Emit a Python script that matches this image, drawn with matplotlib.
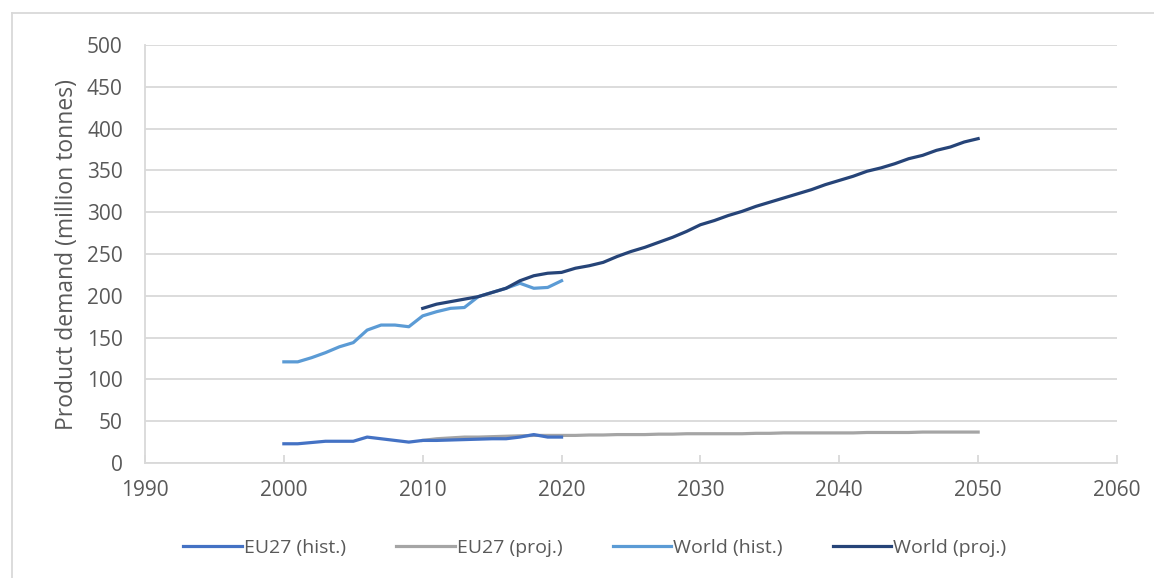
import matplotlib

matplotlib.use("Agg")
import matplotlib.pyplot as plt
from matplotlib.lines import Line2D

plt.rcParams["font.family"] = ["Open Sans", "DejaVu Sans"]

# EU27 historical / projected demand (million tonnes)
eu_hist_years = list(range(2000, 2021))
eu_hist = [23, 23, 24.5, 26, 26, 26, 31, 29, 27, 25, 27, 27, 27.5, 28, 28.5, 29, 29, 31, 34, 31, 31]

eu_proj_years = list(range(2010, 2051))
eu_proj = [27, 29, 30, 31, 31, 31.5, 32, 32.5, 33, 33, 33,
           33, 33.5, 33.5, 34, 34, 34, 34.5, 34.5, 35, 35,
           35, 35, 35, 35.5, 35.5, 36, 36, 36, 36, 36,
           36, 36.5, 36.5, 36.5, 36.5, 37, 37, 37, 37, 37]

world_hist_years = list(range(2000, 2021))
world_hist = [121, 121, 126, 132, 139, 144, 159, 165, 165, 163, 176,
              181, 185, 186, 199, 204, 209, 215, 209, 210, 218]

world_proj_years = list(range(2010, 2051))
world_proj = [185, 190, 193, 196, 199, 204, 209, 218, 224, 227, 228,
              233, 236, 240, 247, 253, 258, 264, 270, 277, 285,
              290, 296, 301, 307, 312, 317, 322, 327, 333, 338,
              343, 349, 353, 358, 364, 368, 374, 378, 384, 388]

text_col = "#595959"
grid_col = "#D9D9D9"

fig = plt.figure(figsize=(11.54, 5.78), dpi=100)
ax = fig.add_axes([145 / 1154, 1 - 463 / 578, (1117 - 145) / 1154, (463 - 45) / 578])

ax.plot(eu_hist_years, eu_hist, color="#4472C4", lw=2.3, label="EU27 (hist.)", zorder=3)
ax.plot(eu_proj_years, eu_proj, color="#A5A5A5", lw=2.3, label="EU27 (proj.)", zorder=2)
ax.plot(world_hist_years, world_hist, color="#5B9BD5", lw=2.3, label="World (hist.)", zorder=3)
ax.plot(world_proj_years, world_proj, color="#264478", lw=2.3, label="World (proj.)", zorder=4)

ax.set_xlim(1990, 2060)
ax.set_ylim(0, 500)
ax.set_xticks(range(1990, 2061, 10))
ax.set_yticks(range(0, 501, 50))
ax.yaxis.grid(True, color=grid_col, lw=1.3)
ax.set_axisbelow(True)

for side in ("top", "right"):
    ax.spines[side].set_visible(False)
for side in ("left", "bottom"):
    ax.spines[side].set_color(grid_col)
    ax.spines[side].set_linewidth(1.3)

ax.tick_params(axis="x", direction="in", length=6, color=grid_col, width=1.3,
               labelsize=15, labelcolor=text_col, pad=12)
ax.tick_params(axis="y", length=0, labelsize=15, labelcolor=text_col, pad=16)
ax.set_ylabel("Product demand (million tonnes)", fontsize=16.5, color=text_col, labelpad=6)

handles, labels = ax.get_legend_handles_labels()
fig.legend(handles, labels, loc="center", bbox_to_anchor=(595 / 1154, 1 - 548 / 578),
           ncol=4, frameon=False, fontsize=14, labelcolor=text_col,
           handlelength=3.0, handletextpad=0.1, columnspacing=2.6)

# outer chart frame (left and top edges visible)
fig.add_artist(Line2D([12 / 1154, 12 / 1154], [0, 1 - 13 / 578], transform=fig.transFigure,
                      color=grid_col, lw=1.3))
fig.add_artist(Line2D([12 / 1154, 1], [1 - 13 / 578, 1 - 13 / 578], transform=fig.transFigure,
                      color=grid_col, lw=1.3))

fig.savefig("out.png", dpi=100)
